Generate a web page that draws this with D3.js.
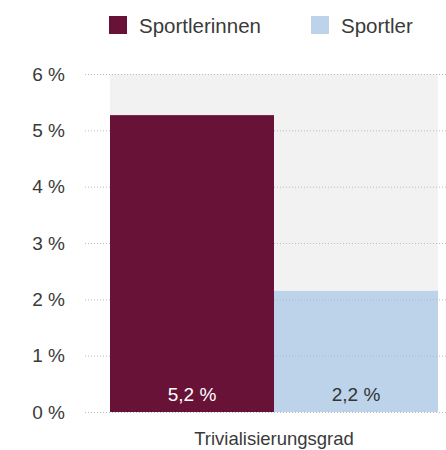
<!DOCTYPE html>
<html>
<head>
<meta charset="utf-8">
<script src="https://cdn.jsdelivr.net/npm/d3@7"></script>
<style>
  body { margin: 0; background: #fff; }
  svg text { font-family: "Liberation Sans", Arial, sans-serif; }
</style>
</head>
<body>
<svg id="chart"></svg>
<script>
// Daten
const categories = ["Trivialisierungsgrad"];
const seriesNames = ["Sportlerinnen", "Sportler"];
const seriesValues = [5.27, 2.15];
const valueLabels = ["5,2 %", "2,2 %"];
const seriesColors = ["#681238", "#bcd3ea"];
const yTicks = [0, 1, 2, 3, 4, 5, 6];

const width = 446;
const height = 450;
const margin = { top: 74, right: 8, bottom: 38, left: 110 };

const svg = d3.select("#chart")
    .attr("width", width)
    .attr("height", height);

const innerW = width - margin.left - margin.right;
const innerH = height - margin.top - margin.bottom;

const g = svg.append("g")
    .attr("transform", `translate(${margin.left}, ${margin.top})`);

// Skalen
const x0 = d3.scaleBand()
    .domain(categories)
    .range([0, innerW])
    .padding(0);

const x1 = d3.scaleBand()
    .domain(seriesNames)
    .range([0, x0.bandwidth()])
    .padding(0);

const y = d3.scaleLinear()
    .domain([0, 6])
    .range([innerH, 0]);

// Hintergrund
g.append("rect")
    .attr("x", 0)
    .attr("y", 0)
    .attr("width", innerW)
    .attr("height", innerH)
    .attr("fill", "#f2f2f2");

// Gitterlinien
g.selectAll(".grid")
    .data(yTicks)
    .enter()
    .append("line")
    .attr("class", "grid")
    .attr("x1", -25)
    .attr("x2", innerW + margin.right)
    .attr("y1", d => y(d) + 0.5)
    .attr("y2", d => y(d) + 0.5)
    .attr("stroke", "#bdbdbd")
    .attr("stroke-width", 1)
    .attr("stroke-dasharray", "1,2");

// Balken
const bars = seriesNames.map((name, i) => ({ cat: categories[0], name: name, value: seriesValues[i], label: valueLabels[i], color: seriesColors[i] }));

g.selectAll(".bar")
    .data(bars)
    .enter()
    .append("rect")
    .attr("class", "bar")
    .attr("x", d => x0(d.cat) + x1(d.name))
    .attr("y", d => y(d.value))
    .attr("width", x1.bandwidth())
    .attr("height", d => innerH - y(d.value))
    .attr("fill", d => d.color);

// Gitterlinien über hellem Balken
g.selectAll(".grid2")
    .data(yTicks.filter(t => t > 0 && t < seriesValues[1]))
    .enter()
    .append("line")
    .attr("x1", x1("Sportler"))
    .attr("x2", innerW)
    .attr("y1", d => y(d) + 0.5)
    .attr("y2", d => y(d) + 0.5)
    .attr("stroke", "#a9bdd2")
    .attr("stroke-width", 1)
    .attr("stroke-dasharray", "1,2");

// Werte
g.selectAll(".label")
    .data(bars)
    .enter()
    .append("text")
    .attr("class", "label")
    .attr("x", d => x0(d.cat) + x1(d.name) + x1.bandwidth() / 2)
    .attr("y", innerH - 11)
    .attr("text-anchor", "middle")
    .style("font-size", "19px")
    .attr("fill", (d, i) => i === 0 ? "#ffffff" : "#333333")
    .text(d => d.label);

// Y-Achse
const yAxis = g.append("g")
    .call(d3.axisLeft(y)
        .tickValues(yTicks)
        .tickSize(0)
        .tickPadding(45)
        .tickFormat(d => d + " %"));
yAxis.select(".domain").remove();
yAxis.selectAll("text")
    .style("font-size", "19px")
    .style("font-family", "'Liberation Sans', Arial, sans-serif")
    .attr("fill", "#3a3a3a");

// X-Achse
g.append("text")
    .attr("x", x0(categories[0]) + x0.bandwidth() / 2)
    .attr("y", innerH + 33)
    .attr("text-anchor", "middle")
    .style("font-size", "18.5px")
    .attr("fill", "#3a3a3a")
    .text(categories[0]);

// Legende
const legend = svg.append("g");
const legendX = [109, 311];
seriesNames.forEach((name, i) => {
    legend.append("rect")
        .attr("x", legendX[i])
        .attr("y", 16)
        .attr("width", 18)
        .attr("height", 18)
        .attr("fill", seriesColors[i]);
    legend.append("text")
        .attr("x", legendX[i] + 30)
        .attr("y", 33)
        .style("font-size", "20.5px")
        .attr("fill", "#3a3a3a")
        .text(name);
});
</script>
</body>
</html>
